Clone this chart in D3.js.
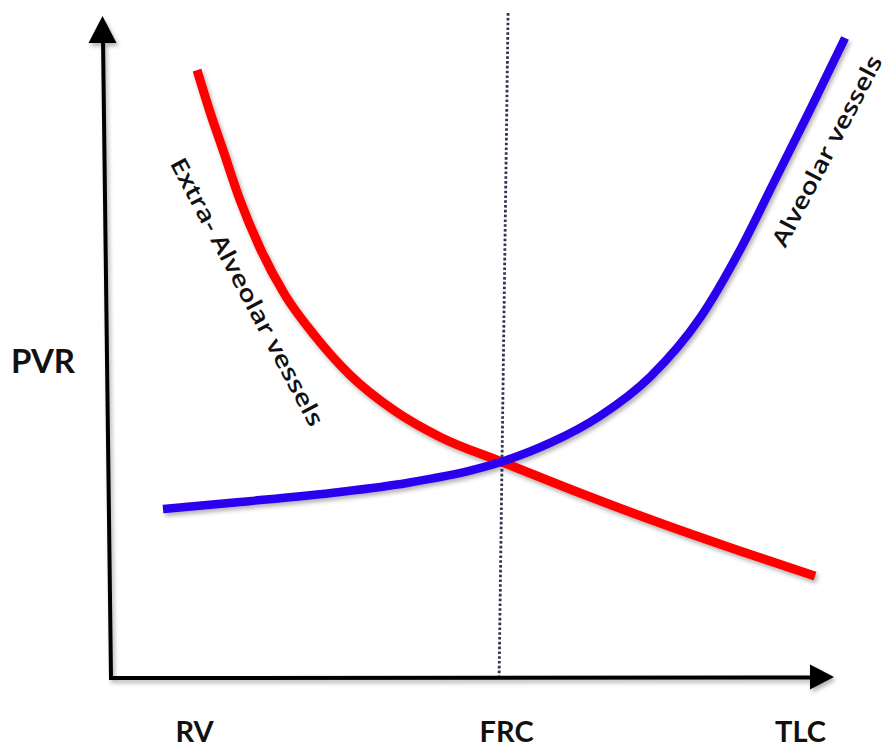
<!DOCTYPE html>
<html>
<head>
<meta charset="utf-8">
<script src="https://cdn.jsdelivr.net/npm/d3@7"></script>
<style>
  html, body { margin: 0; padding: 0; background: #fff; }
  svg { display: block; }
</style>
</head>
<body>
<script>
// ---- data (lung volume %, PVR arbitrary units) ----
const volumeTicks = [0, 51.5, 100];
const volumeLabels = ["RV", "FRC", "TLC"];
const frcVolume = 51.5;

const extraVolume = [0.5, 2.64, 4.79, 7.59, 10.89, 15.02, 19.97, 25.74, 33.17, 40.59, 50.83, 63.70, 76.90, 90.10, 102.48];
const extraPVR    = [92.1, 85.76, 80.0, 72.42, 65.15, 58.03, 51.82, 45.91, 40.45, 36.52, 32.73, 28.03, 23.48, 19.24, 15.45];

const alvVolume = [-5.12, 7.59, 24.09, 35.15, 46.04, 51.65, 58.75, 67.0, 75.25, 83.5, 90.1, 95.87, 101.65, 107.43];
const alvPVR    = [25.61, 26.67, 28.18, 29.55, 31.52, 33.03, 35.61, 39.7, 45.61, 54.55, 64.85, 75.45, 86.06, 96.97];

const W = 886, H = 749;
const svg = d3.select("body").append("svg").attr("width", W).attr("height", H);

const x = d3.scaleLinear().domain([0, 100]).range([194, 800]);
const y = d3.scaleLinear().domain([0, 100]).range([678, 18]);

const defs = svg.append("defs");
const f = defs.append("filter").attr("id", "sh").attr("x", "-20%").attr("y", "-20%").attr("width", "140%").attr("height", "140%");
f.append("feDropShadow").attr("dx", 2).attr("dy", 3).attr("stdDeviation", 2.2)
  .attr("flood-color", "#000").attr("flood-opacity", 0.3);

// dotted FRC line
svg.append("line")
  .attr("x1", x(frcVolume) - 7).attr("y1", 678)
  .attr("x2", x(frcVolume) + 2).attr("y2", 12)
  .attr("stroke", "#2f3550").attr("stroke-width", 2.8)
  .attr("stroke-dasharray", "2.6,2.2");

// axes
const axG = svg.append("g").attr("filter", "url(#sh)");
axG.append("line").attr("x1", 111).attr("y1", y(0)).attr("x2", 103).attr("y2", 38)
  .attr("stroke", "#000").attr("stroke-width", 4);
axG.append("path").attr("d", "M102.5,16 L116.5,43 L88.5,43 Z").attr("fill", "#000");
axG.append("line").attr("x1", 109).attr("y1", y(0)).attr("x2", 815).attr("y2", y(0) - 0.5)
  .attr("stroke", "#000").attr("stroke-width", 4);
axG.append("path").attr("d", "M834,677 L810,664.5 L810,689.5 Z").attr("fill", "#000");

// curves
const line = d3.line().x(d => x(d[0])).y(d => y(d[1])).curve(d3.curveMonotoneX);
const gC = svg.append("g").attr("filter", "url(#sh)");
gC.append("path").datum(extraVolume.map((v, i) => [v, extraPVR[i]]))
  .attr("d", line).attr("fill", "none").attr("stroke", "#ff0000").attr("stroke-width", 9);
gC.append("path").datum(alvVolume.map((v, i) => [v, alvPVR[i]]))
  .attr("d", line).attr("fill", "none").attr("stroke", "#2a00ee").attr("stroke-width", 8.5);

// x tick labels
const xAxis = d3.axisBottom(x).tickValues(volumeTicks)
  .tickFormat((d, i) => volumeLabels[i]).tickSize(0).tickPadding(0);
const gx = svg.append("g").attr("transform", "translate(0,721)").call(xAxis);
gx.select(".domain").remove();
gx.selectAll("text").attr("font-family", "Lato, 'Open Sans', sans-serif")
  .attr("font-weight", "bold").attr("font-size", 29).attr("fill", "#111");

// y label
svg.append("text").attr("x", 43).attr("y", 373).attr("text-anchor", "middle")
  .attr("font-family", "Lato, 'Open Sans', sans-serif").attr("font-weight", "bold")
  .attr("font-size", 33).attr("fill", "#111").text("PVR");

// curve labels
svg.append("text")
  .attr("transform", "translate(247,292) rotate(62)")
  .attr("text-anchor", "middle").attr("dy", "0.35em")
  .attr("font-family", "'Open Sans', Lato, sans-serif").attr("font-weight", 600)
  .attr("font-size", 23).attr("fill", "#111")
  .attr("textLength", 300).attr("lengthAdjust", "spacingAndGlyphs")
  .text("Extra- Alveolar vessels");

svg.append("text")
  .attr("transform", "translate(827,151) rotate(-62.5)")
  .attr("text-anchor", "middle").attr("dy", "0.35em")
  .attr("font-family", "'Open Sans', Lato, sans-serif").attr("font-weight", 600)
  .attr("font-size", 23).attr("fill", "#111")
  .attr("textLength", 212).attr("lengthAdjust", "spacingAndGlyphs")
  .text("Alveolar vessels");
</script>
</body>
</html>
